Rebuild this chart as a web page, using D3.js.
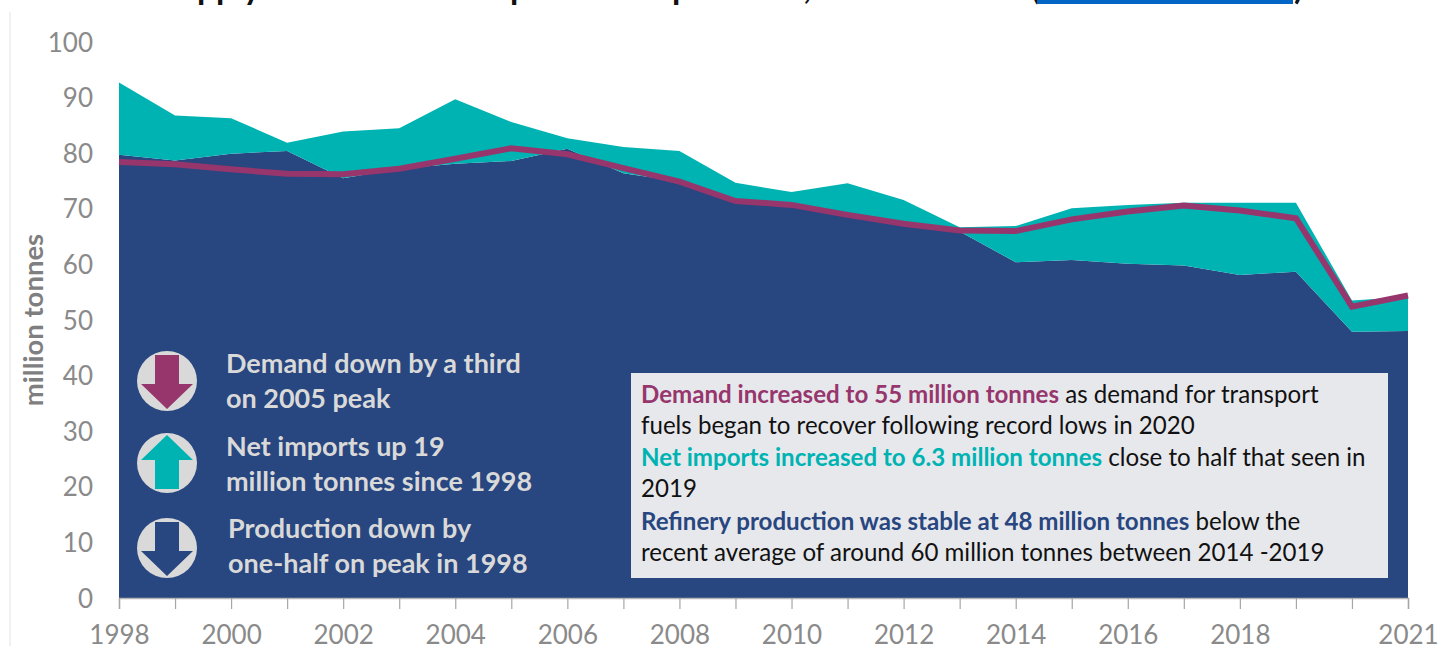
<!DOCTYPE html>
<meta charset="utf-8">
<style>
  body { margin: 0; background: #fff; overflow: hidden; }
  text { font-family: Lato, "Open Sans", sans-serif; }
</style>

<!-- Load d3.js -->
<script src="https://d3js.org/d3.v7.min.js"></script>

<div id="my_dataviz"></div>

<script>
    // values, million tonnes
    var years = [1998,1999,2000,2001,2002,2003,2004,2005,2006,2007,2008,2009,2010,2011,2012,2013,2014,2015,2016,2017,2018,2019,2020,2021];
    var production = [79.7,78.7,79.9,80.4,75.5,77.2,78.1,78.6,80.8,76.4,74.9,71.2,70.4,69.1,67.4,65.9,60.4,60.8,60.1,59.8,58.1,58.7,47.9,48];
    var netImports = [13,8.1,6.4,1.5,8.4,7.3,11.6,7,1.9,4.7,5.5,3.5,2.6,5.5,4.2,0.8,6.5,9.3,10.6,11.3,13,12.4,5.6,6.2];
    var demand = [78.4,78,77.1,76.3,76.2,77.2,79,80.9,79.8,77.3,74.9,71.4,70.7,68.9,67.3,66.1,66,68.1,69.5,70.6,69.7,68.3,52.4,54.4];
    var yearLabels = [1998,2000,2002,2004,2006,2008,2010,2012,2014,2016,2018,2021];
    var yTicks = [0,10,20,30,40,50,60,70,80,90,100];

    var navy = "#28467f", teal = "#00b3b3", plum = "#96366c", grey = "#7f7f7f";

    var svg = d3.select("#my_dataviz")
      .append("svg")
        .attr("width", 1438)
        .attr("height", 646);

    var x = d3.scaleLinear().domain([1998, 2021]).range([119, 1408]);
    var y = d3.scaleLinear().domain([0, 100]).range([598, 42]);

    // faint page edge on the left
    svg.append("line")
      .attr("x1", 10).attr("x2", 10).attr("y1", 12).attr("y2", 646)
      .attr("stroke", "#ececec").attr("stroke-width", 1.5);

    // title, cut off by the top of the picture in the reference
    svg.append("text")
      .attr("x", 160).attr("y", -1)
      .style("font-size", "33.5px").style("font-weight", 700).attr("fill", "#111")
      .text("Supply and demand for petroleum products, 1998 to 2021 (");
    svg.append("rect")
      .attr("x", 1037).attr("y", 0).attr("width", 256).attr("height", 4)
      .attr("fill", "#0366c6");
    svg.append("text")
      .attr("x", 1294).attr("y", -1)
      .style("font-size", "33.5px").style("font-weight", 700).attr("fill", "#111")
      .text(")");

    // stacked areas
    var rows = years.map(function(d, i) { return {year: d, production: production[i], netImports: netImports[i]}; });
    var stacked = d3.stack().keys(["production", "netImports"])(rows);
    var area = d3.area()
      .x(function(d) { return x(d.data.year); })
      .y0(function(d) { return y(d[0]); })
      .y1(function(d) { return y(d[1]); });

    svg.selectAll("path.layer")
      .data(stacked)
      .enter()
      .append("path")
        .attr("class", "layer")
        .attr("d", area)
        .attr("fill", function(d) { return d.key == "production" ? navy : teal; });

    // demand line
    var line = d3.line()
      .x(function(d) { return x(d.year); })
      .y(function(d) { return y(d.value); });

    svg.append("path")
      .datum(years.map(function(d, i) { return {year: d, value: demand[i]}; }))
      .attr("d", line)
      .attr("fill", "none")
      .attr("stroke", plum)
      .attr("stroke-width", 6)
      .attr("stroke-linejoin", "miter");

    // X axis
    var xAxis = svg.append("g")
      .attr("transform", "translate(0,598)")
      .call(d3.axisBottom(x)
        .tickValues(years)
        .tickSize(11)
        .tickPadding(17)
        .tickFormat(function(d) { return yearLabels.indexOf(d) >= 0 ? d : ""; }));
    xAxis.select(".domain").attr("stroke", "#b5b5b5").attr("stroke-width", 1.5);
    xAxis.selectAll(".tick line").attr("stroke", "#a6a6a6").attr("stroke-width", 1.2);
    xAxis.selectAll("text")
      .style("font-size", "26px").style("font-weight", 400)
      .attr("fill", "#8a8a8a");

    // Y axis
    var yAxis = svg.append("g")
      .attr("transform", "translate(93,0)")
      .call(d3.axisLeft(y).tickValues(yTicks).tickSize(0).tickPadding(0));
    yAxis.select(".domain").remove();
    yAxis.selectAll("text")
      .attr("dy", "0.35em")
      .style("font-size", "26px").style("font-weight", 400)
      .attr("fill", "#8a8a8a");

    // Y axis label
    svg.append("text")
      .attr("text-anchor", "middle")
      .attr("transform", "translate(43,320)rotate(-90)")
      .style("font-size", "27.5px").style("font-weight", 700)
      .attr("fill", grey)
      .text("million tonnes");

    // key on the left
    var key = [
      {cy: 381, colour: plum, up: false, tx: 226, lines: ["Demand down by a third", "on 2005 peak"], ys: [373, 408]},
      {cy: 463, colour: teal, up: true, tx: 226, lines: ["Net imports up 19", "million tonnes since 1998"], ys: [456, 491]},
      {cy: 548, colour: navy, up: false, tx: 228, lines: ["Production down by", "one-half on peak in 1998"], ys: [538, 573]}
    ];

    var keyRows = svg.selectAll("g.key").data(key).enter().append("g").attr("class", "key");

    keyRows.append("ellipse")
      .attr("cx", 167).attr("cy", function(d) { return d.cy; })
      .attr("rx", 30).attr("ry", 30)
      .attr("fill", "#d9d9d9");

    keyRows.append("path")
      .attr("transform", function(d) { return "translate(167," + d.cy + ")" + (d.up ? " scale(1,-1)" : ""); })
      .attr("d", "M-12,-26H12V3H26L0,28L-26,3H-12Z")
      .attr("fill", function(d) { return d.colour; });

    keyRows.each(function(d) {
      var g = d3.select(this);
      d.lines.forEach(function(t, i) {
        g.append("text")
          .attr("x", d.tx).attr("y", d.ys[i])
          .style("font-size", "27px").style("font-weight", 700)
          .attr("fill", "#d9d9d9")
          .text(t);
      });
    });

    // commentary box
    svg.append("rect")
      .attr("x", 631).attr("y", 373).attr("width", 757).attr("height", 205)
      .attr("fill", "#e7e8ec");

    var boxLines = [
      {y: 403, parts: [["Demand increased to 55 million tonnes", plum, 700], [" as demand for transport", "#111", 400]]},
      {y: 434, parts: [["fuels began to recover following record lows in 2020", "#111", 400]]},
      {y: 466, parts: [["Net imports increased to 6.3 million tonnes", teal, 700], [" close to half that seen in", "#111", 400]]},
      {y: 497, parts: [["2019", "#111", 400]]},
      {y: 530, parts: [["Refinery production was stable at 48 million tonnes", navy, 700], [" below the", "#111", 400]]},
      {y: 561, parts: [["recent average of around 60 million tonnes between 2014 -2019", "#111", 400]]}
    ];

    var boxText = svg.selectAll("text.box")
      .data(boxLines)
      .enter()
      .append("text")
        .attr("class", "box")
        .attr("x", 641)
        .attr("y", function(d) { return d.y; })
        .style("font-size", "24.1px");

    boxText.selectAll("tspan")
      .data(function(d) { return d.parts; })
      .enter()
      .append("tspan")
        .attr("fill", function(d) { return d[1]; })
        .style("font-weight", function(d) { return d[2]; })
        .text(function(d) { return d[0]; });
</script>
